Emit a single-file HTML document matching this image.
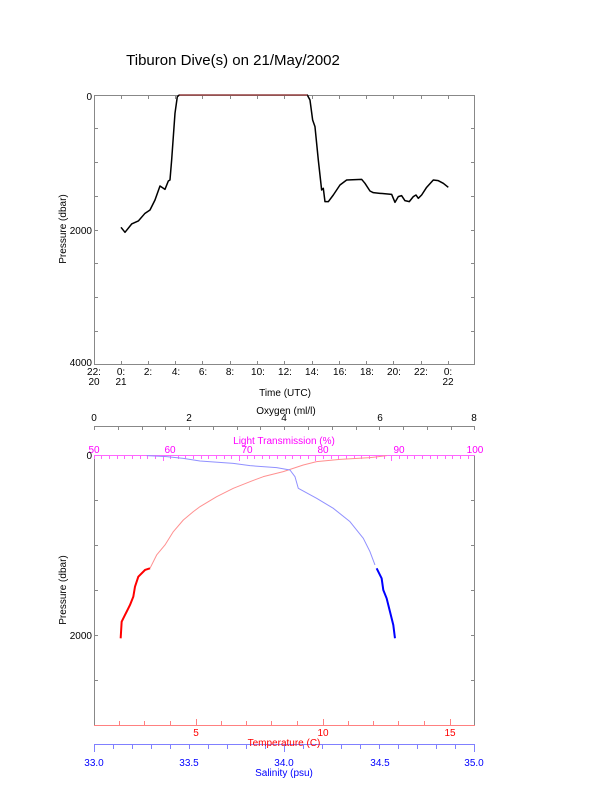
<!DOCTYPE html>
<html><head><style>body{margin:0;background:#fff}svg{display:block}text{font-family:"Liberation Sans",sans-serif;font-size:10px}</style></head><body>
<svg width="612" height="785" xmlns="http://www.w3.org/2000/svg">
<rect width="612" height="785" fill="#fff"/>
<text x="233" y="65" text-anchor="middle" style="font-size:15px">Tiburon Dive(s) on 21/May/2002</text>
<!-- top chart -->
<g stroke="#888" fill="none" stroke-width="1">
<rect x="94.5" y="95.5" width="380" height="269"/>
<path d="M94 128.5h4M94 162.5h4M94 196.5h4M94 230.5h4M94 263.5h4M94 297.5h4M94 331.5h4M475 128.5h-4M475 162.5h-4M475 196.5h-4M475 230.5h-4M475 263.5h-4M475 297.5h-4M475 331.5h-4"/>
<path d="M121.5 365v-4M148.5 365v-4M175.5 365v-4M202.5 365v-4M230.5 365v-4M257.5 365v-4M284.5 365v-4M312.5 365v-4M339.5 365v-4M366.5 365v-4M393.5 365v-4M421.5 365v-4M448.5 365v-4M121.5 95v4M148.5 95v4M175.5 95v4M202.5 95v4M230.5 95v4M257.5 95v4M284.5 95v4M312.5 95v4M339.5 95v4M366.5 95v4M393.5 95v4M421.5 95v4M448.5 95v4"/>
</g>
<g text-anchor="end"><text x="92" y="100">0</text><text x="92" y="234">2000</text><text x="92" y="366">4000</text></g>
<text transform="translate(66 229) rotate(-90)" text-anchor="middle">Pressure (dbar)</text>
<g text-anchor="middle">
<text x="94" y="375">22:</text><text x="94" y="385">20</text>
<text x="121" y="375">0:</text><text x="121" y="385">21</text>
<text x="148" y="375">2:</text><text x="176" y="375">4:</text><text x="203" y="375">6:</text><text x="230" y="375">8:</text><text x="258" y="375">10:</text><text x="285" y="375">12:</text><text x="312" y="375">14:</text><text x="340" y="375">16:</text><text x="367" y="375">18:</text><text x="394" y="375">20:</text><text x="421" y="375">22:</text>
<text x="448" y="375">0:</text><text x="448" y="385">22</text>
<text x="285" y="396">Time (UTC)</text>
</g>
<g transform="translate(50 80) scale(0.3333)" fill="none" stroke-width="4.5" stroke-linejoin="round">
<polyline stroke="#000" points="213,442 225,457 245,432 265,423 285,400 300,390 315,360 330,318 345,328 355,303 360,300 365,240 375,100 382,50 388,45 772,45 780,60 788,120 795,140 805,240 815,330 820,325 825,365 835,365 850,345 870,315 890,300 935,298 945,310 960,333 970,338 990,340 1025,343 1035,367 1045,350 1055,347 1065,362 1078,365 1090,350 1098,345 1105,355 1115,345 1130,322 1150,300 1165,302 1180,310 1195,322"/>
<polyline stroke="#e06060" stroke-width="3" points="388,45 772,45"/>
</g>
<!-- bottom chart -->
<g fill="none" stroke-width="1">
<path stroke="#888" d="M94.5 455v270M474.5 455v270M94 426.5h381"/>
<path stroke="#888" d="M94.5 426v4M118.5 426v4M142.5 426v4M165.5 426v4M189.5 426v4M213.5 426v4M237.5 426v4M260.5 426v4M284.5 426v4M308.5 426v4M332.5 426v4M356.5 426v4M379.5 426v4M403.5 426v4M427.5 426v4M451.5 426v4M474.5 426v4"/>
<path stroke="#888" d="M94 500.5h4M94 545.5h4M94 590.5h4M94 635.5h4M94 680.5h4M475 500.5h-4M475 545.5h-4M475 590.5h-4M475 635.5h-4M475 680.5h-4"/>
<path stroke="#ff66ff" d="M94 455.5h381M94.5 455v4M101.5 455v4M109.5 455v4M117.5 455v4M124.5 455v4M132.5 455v4M140.5 455v4M147.5 455v4M155.5 455v4M163.5 455v6M170.5 455v4M178.5 455v4M185.5 455v4M193.5 455v4M201.5 455v4M208.5 455v4M216.5 455v4M224.5 455v4M231.5 455v4M239.5 455v6M247.5 455v4M254.5 455v4M262.5 455v4M269.5 455v4M277.5 455v4M285.5 455v4M292.5 455v4M300.5 455v4M308.5 455v4M315.5 455v6M323.5 455v4M331.5 455v4M338.5 455v4M346.5 455v4M354.5 455v4M361.5 455v4M369.5 455v4M376.5 455v4M384.5 455v4M391.5 455v6M399.5 455v4M407.5 455v4M414.5 455v4M422.5 455v4M430.5 455v4M437.5 455v4M445.5 455v4M452.5 455v4M460.5 455v4M468.5 455v4"/>
<path stroke="#ff8080" d="M94 725.5h381M119.5 725v-4M144.5 725v-4M170.5 725v-4M196.5 725v-6M221.5 725v-4M246.5 725v-4M271.5 725v-4M297.5 725v-4M323.5 725v-6M348.5 725v-4M373.5 725v-4M398.5 725v-4M424.5 725v-4M450.5 725v-6"/>
<path stroke="#8080ff" d="M94 744.5h381M94.5 744v8M113.5 744v5M132.5 744v5M151.5 744v5M170.5 744v5M189.5 744v5M208.5 744v5M227.5 744v5M246.5 744v5M265.5 744v5M284.5 744v8M303.5 744v5M322.5 744v5M341.5 744v5M360.5 744v5M379.5 744v5M398.5 744v5M417.5 744v5M436.5 744v5M455.5 744v5M474.5 744v8"/>
</g>
<g text-anchor="middle">
<text x="286" y="414">Oxygen (ml/l)</text>
<text x="94" y="421">0</text><text x="189" y="421">2</text><text x="284" y="421">4</text><text x="380" y="421">6</text><text x="474" y="421">8</text>
<g fill="#ff00ff"><text x="284" y="444">Light Transmission (%)</text>
<text x="94" y="453">50</text><text x="170" y="453">60</text><text x="247" y="453">70</text><text x="323" y="453">80</text><text x="399" y="453">90</text><text x="475" y="453">100</text></g>
<g fill="#ff0000"><text x="196" y="736">5</text><text x="323" y="736">10</text><text x="450" y="736">15</text><text x="284" y="746">Temperature (C)</text></g>
<g fill="#0000ff"><text x="94" y="766">33.0</text><text x="189" y="766">33.5</text><text x="284" y="766">34.0</text><text x="380" y="766">34.5</text><text x="474" y="766">35.0</text><text x="284" y="776">Salinity (psu)</text></g>
</g>
<g text-anchor="end"><text x="92" y="459">0</text><text x="92" y="639">2000</text></g>
<text transform="translate(66 590) rotate(-90)" text-anchor="middle">Pressure (dbar)</text>
<g transform="translate(50 405) scale(0.3333)" fill="none" stroke-linejoin="round">
<polyline stroke="#ff9090" stroke-width="3" points="1010,152 960,158 870,163 800,170 760,180 700,200 640,215 600,230 550,250 500,275 450,305 430,320 400,345 370,380 345,420 320,450 300,490"/>
<polyline stroke="#ff0000" stroke-width="6" points="300,490 285,495 265,515 255,545 250,575 240,600 225,630 215,650 212,700"/>
<polyline stroke="#9090ff" stroke-width="3" points="290,152 350,155 400,160 450,168 550,175 600,182 680,188 720,195 735,215 745,250 800,280 850,310 900,350 940,400 960,440 975,480"/>
<polyline stroke="#0000ff" stroke-width="6" points="980,490 995,520 1000,555 1010,580 1020,620 1030,660 1035,700"/>
</g>
</svg>
</body></html>
